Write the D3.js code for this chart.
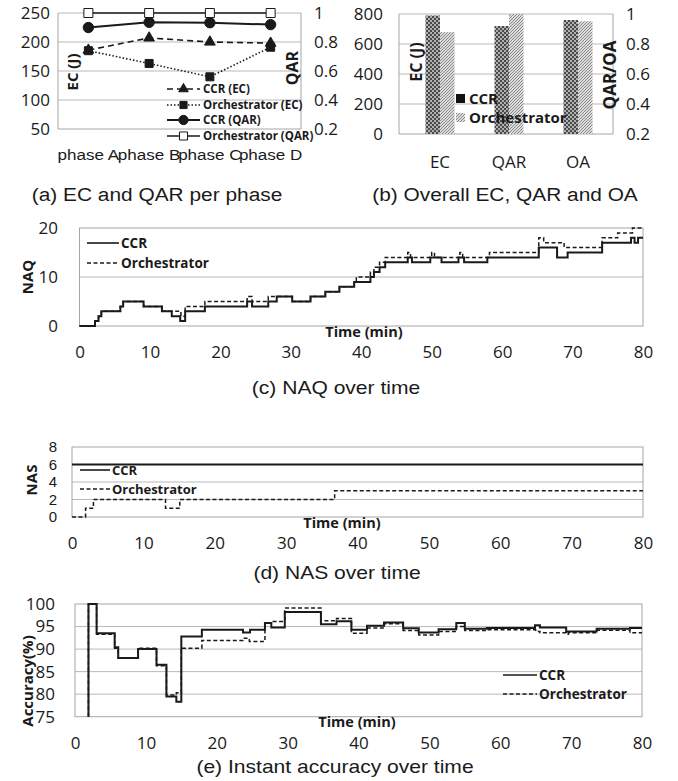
<!DOCTYPE html>
<html>
<head>
<meta charset="utf-8">
<script src="https://cdn.jsdelivr.net/npm/d3@7"></script>
<style>
  body { margin: 0; background: #fff; }
  text { font-family: "Open Sans", sans-serif; fill: #1a1a1a; }
</style>
</head>
<body>
<script>
// ---- data ----
var phases = ['phase A', 'phase B', 'phase C', 'phase D'];
var ccrEC = [186, 207, 200, 198];
var orchEC = [185, 163, 140, 191];
var ccrQAR = [0.90, 0.936, 0.933, 0.92];
var orchQAR = [1, 1, 1, 1];

var overallCats = ['EC', 'QAR', 'OA'];
var ccrOverall = [790, 0.92, 0.96];
var orchOverall = [679, 1.0, 0.951];

var ecTicks = [50, 100, 150, 200, 250];
var qarTicks = [0.2, 0.4, 0.6, 0.8, 1];
var ecTotalTicks = [0, 200, 400, 600, 800];
var timeTicks = [0, 10, 20, 30, 40, 50, 60, 70, 80];
var naqTicks = [0, 10, 20];
var nasTicks = [0, 2, 4, 6, 8];
var accTicks = [75, 80, 85, 90, 95, 100];

// [minute, value] steps
var naqCCR = [[0,0],[2.2,1],[2.7,2],[3.1,3],[5.8,4],[6.2,5],[9.1,4],[11.7,3],[13.1,2],[14.3,1],[15,3],[17.8,4],
  [23.8,5],[24.5,4],[26.8,5],[28,6],[30.2,5],[32.8,6],[34.9,7],[36.9,8],[39,9],[41.3,10],[41.8,11],[42.6,12],
  [43.4,13],[46.6,14],[47.2,13],[49.8,14],[51.4,13],[53.8,14],[54.6,13],[57.9,14],[65.2,16],[67.8,14],[69.3,15],
  [74.2,17],[78.3,18],[78.8,17],[79.3,18],[80,18]];
var naqOrch = [[0,0],[2.2,1],[2.7,2],[3.1,3],[5.8,4],[6.2,5],[9.1,4],[11.7,3],[14.4,2],[15,4],[17.8,5],[23.8,6],
  [24.5,5],[26.8,6],[30.2,5],[32.8,6],[34.9,7],[36.9,8],[39,9],[39.3,10],[41.3,11],[41.8,12],[42.6,13],[43.4,14],
  [46.6,15],[47,14],[50,15],[50.4,14],[54,15],[54.4,14],[58.2,15],[65.2,18],[65.9,17],[68.8,16],[74.2,18],
  [76.4,19],[78.5,20],[80,20]];

var nasCCR = [[0,6],[80,6]];
var nasOrch = [[0,0],[1.9,1],[3,2],[13.1,1],[15.1,2],[36.8,3],[80,3]];

var accCCR = [[1.9,75],[1.9,100],[3.05,93.5],[5.6,90.4],[6.1,88],[8.9,90],[11.5,86.5],[12.9,79.5],[14.3,78.3],
  [15,92.8],[17.9,94.3],[23.7,93.7],[24.7,94.3],[26.8,95.8],[27.7,94.8],[29.6,98.2],[34.7,95.5],[36.9,96.2],
  [39,94.3],[41.2,95.2],[43.6,95.9],[46.3,94.6],[48.5,93.7],[51.3,94.4],[53.8,95.8],[55,94.5],[58.1,94.7],
  [64.9,95.3],[65.6,94.8],[69.3,93.9],[73.6,94.5],[78.3,94.7],[80,94.7]];
var accOrch = [[1.9,75],[1.9,100],[3.05,93.3],[5.6,90.2],[6.1,88],[8.9,90.2],[11.5,86.3],[12.9,79.8],[14.3,80.3],
  [15,90.2],[17.9,91.9],[23.7,92.4],[24.6,91.7],[26.8,95.8],[27.7,96.1],[29.6,99.1],[34.7,96.3],[36.9,96.8],
  [39,93.5],[41.2,94.7],[43.6,95.6],[46.3,94.1],[48.5,93.1],[51.3,93.9],[53.8,95],[55,94.1],[58.1,94.3],
  [65,93.9],[65.6,93.6],[69.3,93.3],[69.6,93.6],[73.6,94.2],[78.3,93.6],[80,93.6]];

// ---- setup ----
var GRID = '#b9b9b9', BORDER = '#a6a6a6', INK = '#1a1a1a';
var TICK = 17;
var svg = d3.select('body').append('svg').attr('width', 678).attr('height', 781);
svg.append('rect').attr('width', 678).attr('height', 781).attr('fill', '#fff');

var defs = svg.append('defs');
var pc = defs.append('pattern').attr('id', 'ccrPat').attr('patternUnits', 'userSpaceOnUse').attr('width', 4).attr('height', 4);
pc.append('rect').attr('width', 4).attr('height', 4).attr('fill', '#b0b0b0');
pc.append('rect').attr('width', 2).attr('height', 2).attr('fill', '#4a4a4a');
pc.append('rect').attr('x', 2).attr('y', 2).attr('width', 2).attr('height', 2).attr('fill', '#4a4a4a');
var po = defs.append('pattern').attr('id', 'orchPat').attr('patternUnits', 'userSpaceOnUse').attr('width', 3).attr('height', 3);
po.append('rect').attr('width', 3).attr('height', 3).attr('fill', '#dcdcdc');
po.append('path').attr('d', 'M0,3 L3,0').attr('stroke', '#8a8a8a').attr('stroke-width', 1);

function txt(g, x, y, s, size, o) {
  o = o || {};
  var tr = 'translate(' + x + ',' + y + ')';
  if (o.rot) tr += ' rotate(-90)';
  if (o.sx) tr += ' scale(' + o.sx + ',1)';
  return g.append('text').attr('transform', tr)
    .attr('text-anchor', o.anchor || 'start')
    .attr('font-size', size)
    .attr('font-weight', o.bold ? 'bold' : null)
    .style('font-family', o.arial ? '"Liberation Sans", Arial, sans-serif' : null)
    .text(s);
}

function styleAxis(a, size) {
  a.select('.domain').remove();
  a.attr('font-size', size).attr('font-family', null);
  a.selectAll('text').attr('fill', INK);
  return a;
}

function hGrid(g, y, vals, x0, x1) {
  g.selectAll(null).data(vals).enter().append('line')
    .attr('x1', x0).attr('x2', x1).attr('y1', function(d) { return y(d); }).attr('y2', function(d) { return y(d); })
    .attr('stroke', GRID).attr('stroke-width', 1);
}

function box(g, x0, x1, y0, y1) {
  g.append('rect').attr('x', x0).attr('y', y0).attr('width', x1 - x0).attr('height', y1 - y0)
    .attr('fill', 'none').attr('stroke', BORDER).attr('stroke-width', 1);
}

function legendLine(g, x0, x1, y, dash, label, size) {
  g.append('line').attr('x1', x0).attr('x2', x1).attr('y1', y).attr('y2', y)
    .attr('stroke', INK).attr('stroke-width', 1.6).attr('stroke-dasharray', dash);
  txt(g, x1 + 2, y + size * 0.36, label, size, {bold: true});
}

// ---- (a) EC and QAR per phase ----
var ga = svg.append('g');
var ax = d3.scaleBand().domain(phases).range([58, 301]);
var aL = d3.scaleLinear().domain([50, 250]).range([129, 13]);
var aR = d3.scaleLinear().domain([0.2, 1]).range([129, 13]);
function acx(i) { return ax(phases[i]) + ax.bandwidth() / 2; }

hGrid(ga, aL, [100, 150, 200, 250], 58, 301);
ga.append('line').attr('x1', 58).attr('x2', 301).attr('y1', 129).attr('y2', 129).attr('stroke', BORDER);
ga.append('line').attr('x1', 58).attr('x2', 58).attr('y1', 13).attr('y2', 129).attr('stroke', BORDER);
ga.append('line').attr('x1', 301).attr('x2', 301).attr('y1', 13).attr('y2', 129).attr('stroke', BORDER);

styleAxis(ga.append('g').attr('transform', 'translate(58,0)')
  .call(d3.axisLeft(aL).tickValues(ecTicks).tickSize(0).tickPadding(8)), TICK);
styleAxis(ga.append('g').attr('transform', 'translate(301,0)')
  .call(d3.axisRight(aR).tickValues(qarTicks).tickSize(0).tickPadding(13).tickFormat(function(d) { return d === 1 ? '1' : d; })), TICK);
var axb = styleAxis(ga.append('g').attr('transform', 'translate(0,129)')
  .call(d3.axisBottom(ax).tickSize(0).tickPadding(20)), 15.5);
axb.selectAll('text').style('font-family', '"Liberation Sans", Arial, sans-serif').attr('transform', 'scale(1.1,1)');

var aSeries = [
  {name: 'CCR (EC)', vals: ccrEC, y: aL, dash: '6,4', w: 1.6, sym: d3.symbolTriangle, size: 50, fill: INK},
  {name: 'Orchestrator (EC)', vals: orchEC, y: aL, dash: '1.5,2', w: 1.6, sym: d3.symbolSquare, size: 64, fill: INK},
  {name: 'CCR (QAR)', vals: ccrQAR, y: aR, dash: null, w: 2, sym: d3.symbolCircle, size: 85, fill: INK},
  {name: 'Orchestrator (QAR)', vals: orchQAR, y: aR, dash: null, w: 1.6, sym: d3.symbolSquare, size: 81, fill: '#fff'}
];
aSeries.forEach(function(s) {
  var line = d3.line().x(function(d, i) { return acx(i); }).y(function(d) { return s.y(d); });
  ga.append('path').datum(s.vals).attr('d', line).attr('fill', 'none')
    .attr('stroke', INK).attr('stroke-width', s.w).attr('stroke-dasharray', s.dash);
  ga.selectAll(null).data(s.vals).enter().append('path')
    .attr('d', d3.symbol().type(s.sym).size(s.size))
    .attr('transform', function(d, i) { return 'translate(' + acx(i) + ',' + s.y(d) + ')'; })
    .attr('fill', s.fill).attr('stroke', INK).attr('stroke-width', 1);
});
var aLegY = [89, 105, 120, 136];
aSeries.forEach(function(s, i) {
  var y = aLegY[i];
  ga.append('line').attr('x1', 167).attr('x2', 200).attr('y1', y).attr('y2', y)
    .attr('stroke', INK).attr('stroke-width', s.w).attr('stroke-dasharray', s.dash);
  ga.append('path').attr('d', d3.symbol().type(s.sym).size(s.size * 0.8))
    .attr('transform', 'translate(183.5,' + y + ')').attr('fill', s.fill).attr('stroke', INK);
  txt(ga, 203, y + 4, s.name, 11.5, {bold: true});
});
txt(ga, 78, 72, 'EC (J)', 15, {bold: true, rot: true, anchor: 'middle'});
txt(ga, 298, 68, 'QAR', 16, {bold: true, rot: true, anchor: 'middle'});
txt(ga, 157, 201, '(a) EC and QAR per phase', 18, {arial: true, anchor: 'middle', sx: 1.16});

// ---- (b) Overall EC, QAR and OA ----
var gb = svg.append('g');
var bx = d3.scaleBand().domain(overallCats).range([405.5, 612.5]);
var bL = d3.scaleLinear().domain([0, 800]).range([134, 14]);
var bR = d3.scaleLinear().domain([0.2, 1]).range([134, 14]);
var barW = 14.5;

hGrid(gb, bL, [200, 400, 600, 800], 399, 613);
gb.append('line').attr('x1', 399).attr('x2', 613).attr('y1', 134).attr('y2', 134).attr('stroke', BORDER);
gb.append('line').attr('x1', 399).attr('x2', 399).attr('y1', 14).attr('y2', 134).attr('stroke', BORDER);
gb.append('line').attr('x1', 613).attr('x2', 613).attr('y1', 14).attr('y2', 134).attr('stroke', BORDER);

styleAxis(gb.append('g').attr('transform', 'translate(399,0)')
  .call(d3.axisLeft(bL).tickValues(ecTotalTicks).tickSize(0).tickPadding(16)), TICK);
styleAxis(gb.append('g').attr('transform', 'translate(613,0)')
  .call(d3.axisRight(bR).tickValues(qarTicks).tickSize(0).tickPadding(13).tickFormat(function(d) { return d === 1 ? '1' : d; })), TICK);
styleAxis(gb.append('g').attr('transform', 'translate(0,134)')
  .call(d3.axisBottom(bx).tickSize(0).tickPadding(22)), TICK);

function barY(i, v) { return i === 0 ? bL(v) : bR(v); }
[[ccrOverall, 'url(#ccrPat)', -barW], [orchOverall, 'url(#orchPat)', 0]].forEach(function(s) {
  gb.selectAll(null).data(s[0]).enter().append('rect')
    .attr('x', function(d, i) { return bx(overallCats[i]) + bx.bandwidth() / 2 + s[2]; })
    .attr('y', function(d, i) { return barY(i, d); })
    .attr('width', barW)
    .attr('height', function(d, i) { return 134 - barY(i, d); })
    .attr('fill', s[1]);
});
gb.append('rect').attr('x', 456).attr('y', 94).attr('width', 9).attr('height', 9).attr('fill', '#111');
txt(gb, 469, 104, 'CCR', 15, {bold: true});
gb.append('rect').attr('x', 456).attr('y', 113).attr('width', 9).attr('height', 9).attr('fill', 'url(#orchPat)');
txt(gb, 469, 123, 'Orchestrator', 15, {bold: true});
txt(gb, 422, 62, 'EC (J)', 16, {bold: true, rot: true, anchor: 'middle'});
txt(gb, 616, 75, 'QAR/OA', 17, {bold: true, rot: true, anchor: 'middle'});
txt(gb, 505, 201, '(b) Overall EC, QAR and OA', 18, {arial: true, anchor: 'middle', sx: 1.16});

// ---- time series helper ----
function timePanel(o) {
  var g = svg.append('g');
  var x = d3.scaleLinear().domain([0, 80]).range([o.x0, o.x1]);
  var y = d3.scaleLinear().domain(o.dom).range([o.y1, o.y0]);
  hGrid(g, y, o.grid, o.x0, o.x1);
  box(g, o.x0, o.x1, o.y0, o.y1);
  var ya = styleAxis(g.append('g').attr('transform', 'translate(' + o.x0 + ',0)')
    .call(d3.axisLeft(y).tickValues(o.yTicks).tickSize(0).tickPadding(o.x0 - o.tickEnd)), o.yTickSize || TICK);
  if (o.yTickFont) ya.selectAll('text').style('font-family', o.yTickFont);
  styleAxis(g.append('g').attr('transform', 'translate(0,' + o.y1 + ')')
    .call(d3.axisBottom(x).tickValues(timeTicks).tickSize(0).tickPadding(o.xPad)), TICK);
  var line = d3.line().curve(d3.curveStepAfter)
    .x(function(d) { return x(d[0]); }).y(function(d) { return y(d[1]); });
  g.append('path').datum(o.orch).attr('d', line).attr('fill', 'none')
    .attr('stroke', INK).attr('stroke-width', 1.5).attr('stroke-dasharray', '4,2.5');
  g.append('path').datum(o.ccr).attr('d', line).attr('fill', 'none')
    .attr('stroke', INK).attr('stroke-width', 2);
  legendLine(g, o.leg[0], o.leg[1], o.leg[2], null, 'CCR', o.legSize || 13.5);
  legendLine(g, o.leg[0], o.leg[1], o.leg[3], '4,2.5', 'Orchestrator', o.legSize || 13.5);
  txt(g, o.time[0], o.time[1], 'Time (min)', 14.5, {bold: true, anchor: 'middle'});
  txt(g, o.ylab[0], o.ylab[1], o.ylab[2], 15, {bold: true, rot: true, anchor: 'middle'});
  txt(g, o.title[0], o.title[1], o.title[2], 18, {arial: true, anchor: 'middle', sx: 1.17});
  return g;
}

// ---- (c) NAQ over time ----
timePanel({x0: 79.5, x1: 643, y0: 228, y1: 326, dom: [0, 20], grid: [10], yTicks: naqTicks, tickEnd: 58,
  xPad: 20, ccr: naqCCR, orch: naqOrch, leg: [87, 119, 243, 263],
  time: [364, 337], ylab: [33, 277, 'NAQ'], title: [336, 394, '(c) NAQ over time']});

// ---- (d) NAS over time ----
timePanel({x0: 72, x1: 643, y0: 447, y1: 517, dom: [0, 8], grid: [2, 4, 6], yTicks: nasTicks, tickEnd: 57,
  yTickSize: 15, yTickFont: '"Liberation Sans", Arial, sans-serif', xPad: 20, ccr: nasCCR, orch: nasOrch,
  leg: [80, 110, 470, 489], legSize: 13,
  time: [342, 528], ylab: [37, 480, 'NAS'], title: [337, 579, '(d) NAS over time']});

// ---- (e) Instant accuracy over time ----
timePanel({x0: 75, x1: 642, y0: 604, y1: 716.7, dom: [75, 100], grid: [80, 85, 90, 95], yTicks: accTicks, tickEnd: 55,
  xPad: 20, ccr: accCCR, orch: accOrch, leg: [503, 537, 675, 694],
  time: [357, 727], ylab: [33, 681, 'Accuracy(%)'], title: [335, 773, '(e) Instant accuracy over time']});
</script>
</body>
</html>
